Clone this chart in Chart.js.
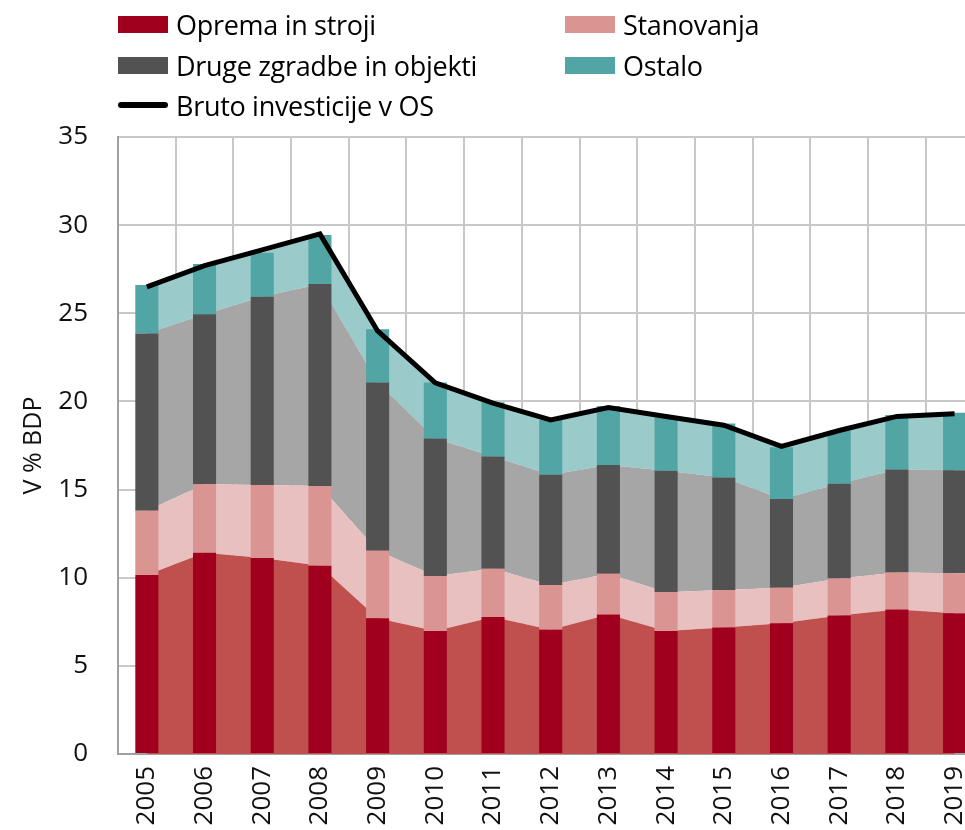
<!DOCTYPE html>
<html>
<head>
<meta charset="utf-8">
<script src="https://cdn.jsdelivr.net/npm/chart.js@4"></script>
<style>
  html, body { margin: 0; padding: 0; background: #fff; overflow: hidden; }
  #wrap { position: relative; width: 965px; height: 830px; overflow: hidden; }
  #investChart { position: absolute; left: 0; top: 0; }
  #legend { position: absolute; left: 118px; top: 4px; font-family: "Open Sans", sans-serif; font-size: 27px; color: #000; letter-spacing: -0.3px; }
  .item { position: absolute; white-space: nowrap; display: flex; align-items: center; height: 40px; }
  .swatch { display: inline-block; width: 50px; height: 17px; margin-right: 8px; }
  .swatch.line { height: 6px; border-radius: 3px; }
</style>
</head>
<body>
<div id="wrap">
  <canvas id="investChart" width="998" height="830"></canvas>
  <div id="legend"></div>
</div>
<script>
const YEARS = ["2005", "2006", "2007", "2008", "2009", "2010", "2011", "2012", "2013", "2014", "2015", "2016", "2017", "2018", "2019"];

// shares of GDP
const OPREMA = [10.15, 11.42, 11.12, 10.68, 7.7, 6.98, 7.77, 7.05, 7.92, 6.98, 7.18, 7.41, 7.85, 8.2, 7.98];
const STANOVANJA = [3.65, 3.88, 4.14, 4.52, 3.83, 3.12, 2.74, 2.54, 2.31, 2.19, 2.12, 2.02, 2.11, 2.1, 2.27];
const DRUGE = [10.05, 9.64, 10.68, 11.46, 9.55, 7.8, 6.36, 6.25, 6.17, 6.9, 6.39, 5.03, 5.37, 5.84, 5.85];
const OSTALO = [2.75, 2.86, 2.49, 2.78, 3.02, 3.18, 3.08, 3.1, 3.34, 3.03, 3.06, 2.94, 3.0, 3.09, 3.26];
const BRUTO = [26.5, 27.7, 28.6, 29.5, 24.0, 21.05, 19.9, 18.95, 19.65, 19.15, 18.65, 17.45, 18.35, 19.15, 19.3];

const Y_TICKS = [0, 5, 10, 15, 20, 25, 30, 35];

const SERIES = [
  { label: "Oprema in stroji", data: OPREMA, bar: "#a0001e", area: "#c0504d" },
  { label: "Stanovanja", data: STANOVANJA, bar: "#da9593", area: "#e8c0c0" },
  { label: "Druge zgradbe in objekti", data: DRUGE, bar: "#525252", area: "#a6a6a6" },
  { label: "Ostalo", data: OSTALO, bar: "#52a5a5", area: "#9acbca" }
];
const TOTAL_LABEL = "Bruto investicije v OS";

const FONT = "'Open Sans', sans-serif";
const GRID = "#c8c8c8";

function buildLegend() {
  const el = document.getElementById("legend");
  const slots = [
    { s: SERIES[0], x: 0, y: 0 },
    { s: SERIES[1], x: 447, y: 0 },
    { s: SERIES[2], x: 0, y: 41 },
    { s: SERIES[3], x: 447, y: 41 }
  ];
  slots.forEach(({ s, x, y }) => {
    const item = document.createElement("div");
    item.className = "item";
    item.style.left = x + "px";
    item.style.top = y + "px";
    item.innerHTML = `<span class="swatch" style="background:${s.bar}"></span>${s.label}`;
    el.appendChild(item);
  });
  const line = document.createElement("div");
  line.className = "item";
  line.style.left = "0px";
  line.style.top = "81px";
  line.innerHTML = `<span class="swatch line" style="background:#000"></span>${TOTAL_LABEL}`;
  el.appendChild(line);
}

// filled areas behind the bars, stacked among themselves
const areaSets = SERIES.map((s, i) => ({
  type: "line",
  label: s.label + " (area)",
  data: s.data,
  backgroundColor: s.area,
  borderWidth: 0,
  pointRadius: 0,
  tension: 0,
  fill: i === 0 ? "origin" : "-1",
  order: 3
}));

const barSets = SERIES.map((s) => ({
  type: "bar",
  label: s.label,
  data: s.data,
  backgroundColor: s.bar,
  borderWidth: 0,
  barPercentage: 0.4,
  categoryPercentage: 1,
  order: 2
}));

const totalSet = {
  type: "line",
  label: TOTAL_LABEL,
  data: BRUTO,
  stack: "total",
  borderColor: "#000",
  borderWidth: 5,
  pointRadius: 0,
  tension: 0,
  fill: false,
  order: 1
};

const ctx = document.getElementById("investChart");
new Chart(ctx, {
  type: "bar",
  data: {
    labels: YEARS,
    datasets: [...areaSets, ...barSets, totalSet]
  },
  options: {
    responsive: false,
    animation: false,
    layout: { padding: { top: 137, right: 7, left: 0, bottom: 0 } },
    plugins: {
      legend: { display: false },
      tooltip: { enabled: false }
    },
    scales: {
      x: {
        stacked: true,
        offset: true,
        grid: { color: GRID, lineWidth: 2, offset: true, drawTicks: false },
        border: { color: "#a0a0a0", width: 2 },
        ticks: {
          color: "#111",
          font: { family: FONT, size: 26 },
          minRotation: 90,
          maxRotation: 90,
          padding: 12
        },
        afterFit(scale) { scale.height = 76; }
      },
      y: {
        stacked: true,
        min: 0,
        max: 35,
        afterBuildTicks(scale) { scale.ticks = Y_TICKS.map((v) => ({ value: v })); },
        grid: { color: GRID, lineWidth: 2, drawTicks: false },
        border: { color: "#a0a0a0", width: 2 },
        ticks: {
          color: "#111",
          font: { family: FONT, size: 26 },
          padding: 30
        },
        title: {
          display: true,
          text: "V % BDP",
          color: "#111",
          font: { family: FONT, size: 25 },
          padding: { top: 19, bottom: 0 }
        },
        afterFit(scale) { scale.width = 118; }
      }
    }
  }
});

buildLegend();
</script>
</body>
</html>
